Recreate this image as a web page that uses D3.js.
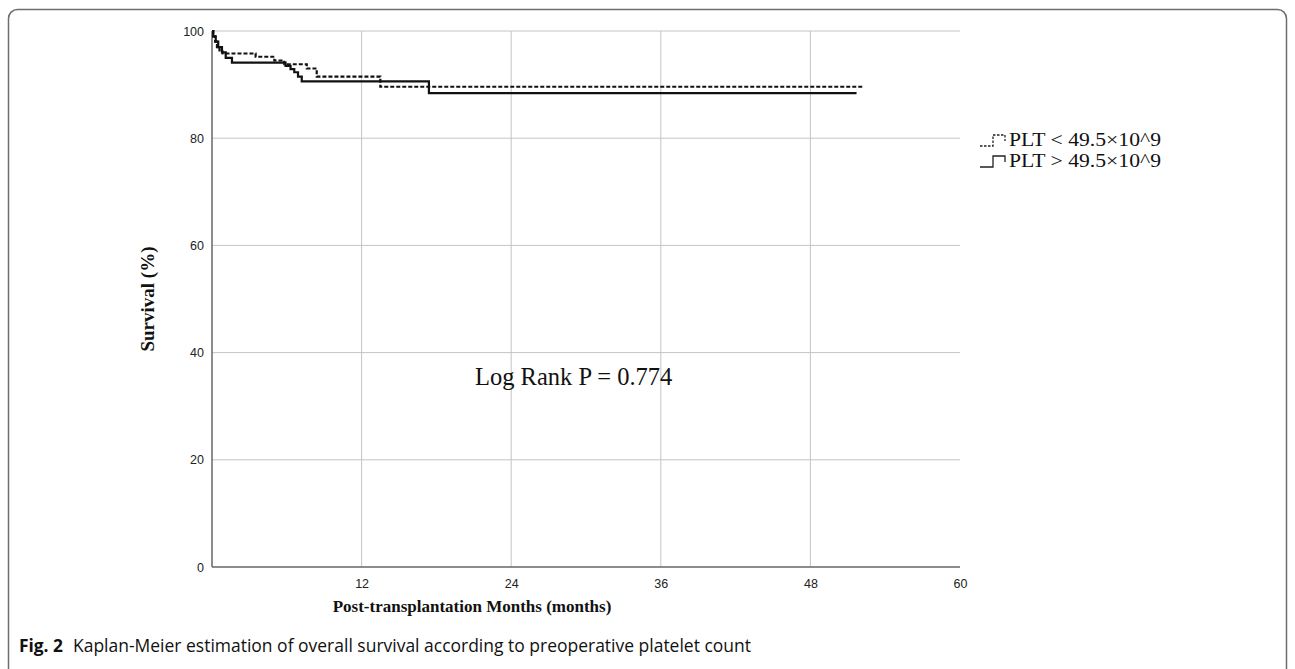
<!DOCTYPE html>
<html><head><meta charset="utf-8">
<script src="https://cdn.jsdelivr.net/npm/d3@7"></script>
<style>body{margin:0;background:#fff}svg{display:block}</style>
</head><body>
<svg id="chart" width="1295" height="669"></svg>
<script>
// ---- data ----
const xTicks = [12, 24, 36, 48, 60];
const yTicks = [0, 20, 40, 60, 80, 100];
const seriesNames = ["PLT < 49.5×10^9", "PLT > 49.5×10^9"];
const lowTimes = [0, 0.1, 0.25, 0.4, 0.6, 0.85, 3.5, 5.0, 5.8, 7.6, 8.4, 13.5];
const lowSurv  = [100, 99, 98, 97, 96.4, 95.8, 95.2, 94.5, 93.8, 93.0, 91.5, 89.6];
const lowEnd = 52.2;
const highTimes = [0, 0.1, 0.3, 0.5, 0.8, 1.1, 1.6, 5.9, 6.3, 6.6, 6.9, 7.2, 17.4];
const highSurv  = [100, 99, 98, 97, 96, 95, 94.1, 93.5, 92.9, 92.3, 91.5, 90.6, 88.4];
const highEnd = 51.7;
const annotation = "Log Rank P = 0.774";
const xTitle = "Post-transplantation Months (months)";
const yTitle = "Survival (%)";
const captionBold = "Fig. 2";
const captionText = "Kaplan-Meier estimation of overall survival according to preoperative platelet count";

// ---- drawing ----
const svg = d3.select("#chart");
svg.append("rect").attr("x", 8.5).attr("y", 9.5).attr("width", 1278).attr("height", 720)
  .attr("rx", 9).attr("fill", "none").attr("stroke", "#6e6e6e").attr("stroke-width", 1.5);

const x = d3.scaleLinear().domain([0, 60]).range([212, 960]);
const y = d3.scaleLinear().domain([0, 100]).range([567, 31]);

const grid = svg.append("g");
grid.selectAll(".hg").data(yTicks.filter(d => d > 0)).join("line")
  .attr("x1", x(0)).attr("x2", x(60)).attr("y1", d => y(d)).attr("y2", d => y(d))
  .attr("stroke", "#c4c4c4").attr("stroke-width", 1);
grid.selectAll(".vg").data(xTicks.filter(d => d < 60)).join("line")
  .attr("x1", d => x(d)).attr("x2", d => x(d)).attr("y1", y(0)).attr("y2", y(100))
  .attr("stroke", "#c4c4c4").attr("stroke-width", 1);

// axes
const xAxis = d3.axisBottom(x).tickValues(xTicks).tickSize(0).tickPadding(12);
const yAxis = d3.axisLeft(y).tickValues(yTicks).tickSize(0).tickPadding(8);
const gx = svg.append("g").attr("transform", `translate(0,${y(0)})`).call(xAxis);
const gy = svg.append("g").attr("transform", `translate(${x(0)},0)`).call(yAxis);
[gx, gy].forEach(g => {
  g.select(".domain").attr("stroke", "#666").attr("stroke-width", 1.5);
  g.selectAll("text").attr("font-family", "Liberation Sans, Arial, sans-serif")
    .attr("font-size", 12.5).attr("fill", "#222");
});
gy.select(".domain").attr("d", `M0,${y(0)}V${y(100)}`);
gx.select(".domain").attr("d", `M${x(0)},0H${x(60)}`);

// step curves
function stepPath(times, surv, end) {
  const pts = times.map((t, i) => [t, surv[i]]);
  pts.push([end, surv[surv.length - 1]]);
  return d3.line().x(d => x(d[0])).y(d => y(d[1])).curve(d3.curveStepAfter)(pts);
}
svg.append("path").attr("d", stepPath(highTimes, highSurv, highEnd))
  .attr("fill", "none").attr("stroke", "#111").attr("stroke-width", 2.2);
svg.append("path").attr("d", stepPath(lowTimes, lowSurv, lowEnd))
  .attr("fill", "none").attr("stroke", "#111").attr("stroke-width", 2.2)
  .attr("stroke-dasharray", "4,2");

// annotation
svg.append("text").attr("x", 475).attr("y", 385).text(annotation)
  .attr("font-family", "Liberation Serif, Times New Roman, serif").attr("font-size", 24.5).attr("fill", "#111");

// titles
svg.append("text").attr("x", 472).attr("y", 612).attr("text-anchor", "middle").text(xTitle)
  .attr("font-family", "Liberation Serif, Times New Roman, serif").attr("font-weight", "bold")
  .attr("font-size", 17).attr("fill", "#111");
svg.append("text").attr("transform", `translate(154,${(y(0) + y(100)) / 2}) rotate(-90)`)
  .attr("text-anchor", "middle").text(yTitle)
  .attr("font-family", "Liberation Serif, Times New Roman, serif").attr("font-weight", "bold")
  .attr("font-size", 19).attr("fill", "#111");

// legend
const leg = svg.append("g");
const legY = [140, 161];
leg.append("path").attr("d", `M980,${legY[0] + 6}H993V${legY[0] - 5}H1005V${legY[0] + 1}`)
  .attr("fill", "none").attr("stroke", "#222").attr("stroke-width", 1.3).attr("stroke-dasharray", "2.5,1.5");
leg.append("path").attr("d", `M980,${legY[1] + 6}H993V${legY[1] - 5}H1005V${legY[1] + 1}`)
  .attr("fill", "none").attr("stroke", "#222").attr("stroke-width", 1.3);
leg.selectAll("text").data(seriesNames).join("text")
  .attr("x", 1009).attr("y", (d, i) => legY[i] + 6).text(d => d)
  .attr("font-family", "Liberation Serif, Times New Roman, serif").attr("font-size", 18.5).attr("fill", "#111")
  .attr("textLength", 152).attr("lengthAdjust", "spacingAndGlyphs");

// caption
svg.append("text").attr("x", 19).attr("y", 652).text(captionBold)
  .attr("font-family", "Open Sans, sans-serif").attr("font-weight", "bold").attr("font-size", 18).attr("fill", "#111")
  .attr("textLength", 44).attr("lengthAdjust", "spacingAndGlyphs");
svg.append("text").attr("x", 73).attr("y", 652).text(captionText)
  .attr("font-family", "Open Sans, sans-serif").attr("font-size", 18).attr("fill", "#111")
  .attr("textLength", 678).attr("lengthAdjust", "spacingAndGlyphs");
</script>
</body></html>
